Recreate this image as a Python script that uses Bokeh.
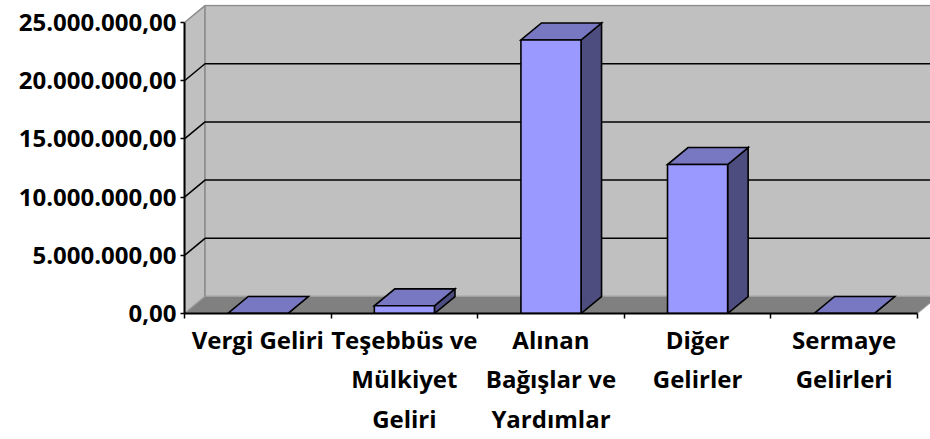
import numpy as np
from bokeh.plotting import figure
from bokeh.models import Range1d, FixedTicker
from bokeh.embed import file_html
from bokeh.resources import INLINE

# ---- data ----
categories = ["Vergi Geliri", "Teşebbüs ve\nMülkiyet\nGeliri", "Alınan\nBağışlar ve\nYardımlar",
              "Diğer\nGelirler", "Sermaye\nGelirleri"]
values = [0, 660000, 23500000, 12800000, 0]
y_ticks = [0, 5000000, 10000000, 15000000, 20000000, 25000000]
y_tick_labels = ["0,00", "5.000.000,00", "10.000.000,00", "15.000.000,00",
                 "20.000.000,00", "25.000.000,00"]

# ---- styling / geometry ----
FRONT = "#9999FF"
TOP = "#7777C2"
SIDE = "#4D4D80"
WALL = "#C0C0C0"
FLOOR = "#808080"
FONT = "Open Sans"
LBL_SIZE = "24px"

n = len(categories)
x0, x1 = -0.5, n - 0.5
dx = 0.14           # depth offset in category units
dy = 1.46e6         # depth offset in value units
bw = 0.41           # bar width
ymax = y_ticks[-1]

p = figure(width=930, height=439, output_backend="svg", toolbar_location=None,
           x_range=Range1d(-0.5, 4.589), y_range=Range1d(0, 26.55e6),
           min_border_left=184, min_border_right=0, min_border_top=4, min_border_bottom=126,
           background_fill_color="white", border_fill_color="white",
           outline_line_color=None)
p.xgrid.visible = False
p.ygrid.visible = False

# walls
p.patch([x0, x0 + dx, x0 + dx, x0], [0, dy, ymax + dy, ymax],
        fill_color=WALL, line_color="#8C8C8C", line_width=1.5)
p.patch([x0 + dx, x1 + dx, x1 + dx, x0 + dx], [dy, dy, ymax + dy, ymax + dy],
        fill_color=WALL, line_color="#8C8C8C", line_width=1.5)
# floor
p.patch([x0, x1, x1 + dx, x0 + dx], [0, 0, dy, dy],
        fill_color=FLOOR, line_color="#A0A0A0", line_width=1)

# gridlines on side + back wall
gx, gy = [], []
for t in y_ticks[1:-1]:
    gx.append([x0, x0 + dx, x1 + dx])
    gy.append([t, t + dy, t + dy])
p.multi_line(gx, gy, line_color="black", line_width=1.5)

# bars
xc = np.arange(n)
vals = np.array(values, dtype=float)
lft = xc - bw / 2
rgt = xc + bw / 2
side_xs = [[r, r + dx, r + dx, r] for r in rgt]
side_ys = [[0, dy, v + dy, v] for v in vals]
top_xs = [[l, r, r + dx, l + dx] for l, r in zip(lft, rgt)]
top_ys = [[v, v, v + dy, v + dy] for v in vals]
p.patches(side_xs, side_ys, fill_color=SIDE, line_color="black", line_width=1.6, line_join="miter")
p.patches(top_xs, top_ys, fill_color=TOP, line_color="black", line_width=1.6, line_join="miter")
p.quad(left=lft, right=rgt, bottom=0, top=vals, fill_color=FRONT, line_color="black", line_width=1.6)

# x axis
xa = p.xaxis[0]
xa.ticker = FixedTicker(ticks=list(range(n)), minor_ticks=[i - 0.5 for i in range(n + 1)])
xa.major_label_overrides = {i: c for i, c in enumerate(categories)}
xa.bounds = (x0, x1)
xa.axis_line_color = "black"
xa.axis_line_width = 2
xa.major_tick_out = 0
xa.major_tick_in = 0
xa.minor_tick_out = 5
xa.minor_tick_in = 0
xa.minor_tick_line_color = "black"
xa.minor_tick_line_width = 1.5
xa.major_label_standoff = 4
xa.major_label_text_font = FONT
xa.major_label_text_font_style = "bold"
xa.major_label_text_font_size = LBL_SIZE
xa.major_label_text_color = "black"

# y axis
ya = p.yaxis[0]
ya.ticker = FixedTicker(ticks=y_ticks, minor_ticks=[])
ya.major_label_overrides = {t: s for t, s in zip(y_ticks, y_tick_labels)}
ya.bounds = (0, ymax)
ya.axis_line_color = "black"
ya.axis_line_width = 2
ya.major_tick_out = 4
ya.major_tick_in = 0
ya.major_tick_line_width = 1.5
ya.minor_tick_line_color = None
ya.major_label_standoff = 4
ya.major_label_text_font = FONT
ya.major_label_text_font_style = "bold"
ya.major_label_text_font_size = LBL_SIZE
ya.major_label_text_color = "black"

open("out.html", "w").write(file_html(p, INLINE))
